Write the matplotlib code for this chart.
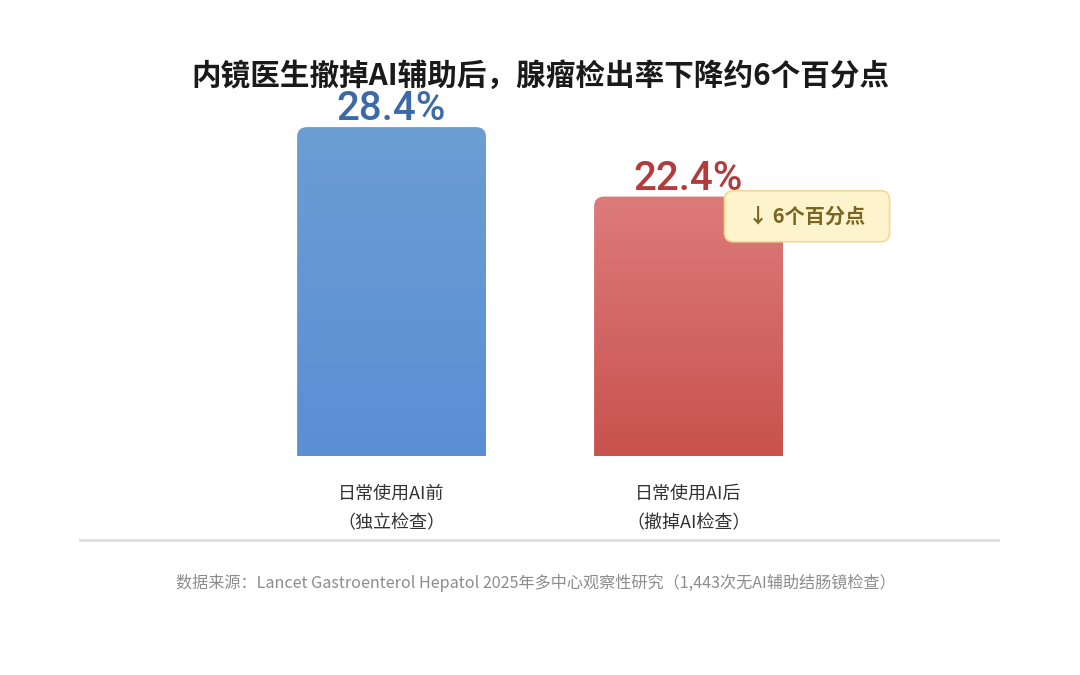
import matplotlib
matplotlib.use("Agg")
import matplotlib.pyplot as plt
import numpy as np
from matplotlib.patches import FancyBboxPatch
from matplotlib.colors import LinearSegmentedColormap
from matplotlib.lines import Line2D

plt.rcParams['font.family'] = ['Noto Sans CJK SC', 'DejaVu Sans']

title = "内镜医生撤掉AI辅助后，腺瘤检出率下降约6个百分点"
categories = ["日常使用AI前\n（独立检查）", "日常使用AI后\n（撤掉AI检查）"]
values = [28.4, 22.4]
value_labels = ["28.4%", "22.4%"]
annotation = "↓ 6个百分点"
source = "数据来源：Lancet Gastroenterol Hepatol 2025年多中心观察性研究（1,443次无AI辅助结肠镜检查）"

top_colors = ["#6c9dd2", "#dd7b7b"]
bottom_colors = ["#5a8fd6", "#c8524d"]
label_colors = ["#3b6aa6", "#b23b3b"]

W, H = 1080, 675
fig = plt.figure(figsize=(W / 100, H / 100), dpi=100)
fig.patch.set_facecolor("white")

ax_left, ax_right = 80, 998
ax_bottom_px, ax_top_px = 456, 85.4
ax = fig.add_axes([ax_left / W, 1 - ax_bottom_px / H,
                   (ax_right - ax_left) / W, (ax_bottom_px - ax_top_px) / H])
xlim = (-1.049, 2.042)
ylim = (0, 32)
ax.set_xlim(*xlim)
ax.set_ylim(*ylim)
ax.axis("off")

x = np.arange(len(values))
bw = 0.636
bars = ax.bar(x, values, width=bw, color="none", edgecolor="none")

px_per_x = (ax_right - ax_left) / (xlim[1] - xlim[0])
px_per_y = (ax_bottom_px - ax_top_px) / (ylim[1] - ylim[0])
aspect = px_per_x / px_per_y
r = 10 / px_per_x

for i, b in enumerate(bars):
    x0 = b.get_x()
    w = b.get_width()
    h = b.get_height()
    patch = FancyBboxPatch((x0, -2), w, h + 2,
                           boxstyle=f"round,pad=0,rounding_size={r}",
                           mutation_aspect=aspect, facecolor="none",
                           edgecolor="none", transform=ax.transData)
    ax.add_patch(patch)
    cmap = LinearSegmentedColormap.from_list("g", [bottom_colors[i], top_colors[i]])
    grad = np.linspace(0, 1, 256).reshape(-1, 1)
    im = ax.imshow(grad, cmap=cmap, aspect="auto", origin="lower",
                   extent=(x0, x0 + w, 0, h), zorder=2)
    im.set_clip_path(patch)
    ax.text(b.get_x() + w / 2, h - 0.1, value_labels[i], ha="center", va="bottom",
            fontsize=29, fontweight="medium", color=label_colors[i],
            family=["Roboto", "DejaVu Sans"], zorder=3)
    ax.text(b.get_x() + w / 2, -2.45, categories[i], ha="center", va="top",
            fontsize=13, color="#333333", linespacing=1.85, clip_on=False)

ax.set_xlim(*xlim)
ax.set_ylim(*ylim)

# annotation box
cx, cy = 1.399, 20.7
bw_box = 165 / px_per_x
bh_box = 51 / px_per_y
box = FancyBboxPatch((cx - bw_box / 2, cy - bh_box / 2), bw_box, bh_box,
                     boxstyle=f"round,pad=0,rounding_size={9 / px_per_x}",
                     mutation_aspect=aspect, facecolor="#fdf3cc",
                     edgecolor="#f1da92", linewidth=1.2, zorder=4, clip_on=False)
ax.add_patch(box)
ax.text(cx, cy, annotation, ha="center", va="center", fontsize=14.5,
        fontweight="bold", color="#7a6522", zorder=5)

fig.text(0.5, 1 - 76 / H, title, ha="center", va="center", fontsize=21.3,
         fontweight="bold", color="#1a1a1a")

fig.add_artist(Line2D([ax_left / W, ax_right / W], [1 - 540 / H, 1 - 540 / H],
                      transform=fig.transFigure, color="#dddddd", linewidth=2))

fig.text(535.5 / W, 1 - 583 / H, source, ha="center", va="center",
         fontsize=11.6, color="#8c8c8c")

fig.savefig("out.png", dpi=100, facecolor="white")
